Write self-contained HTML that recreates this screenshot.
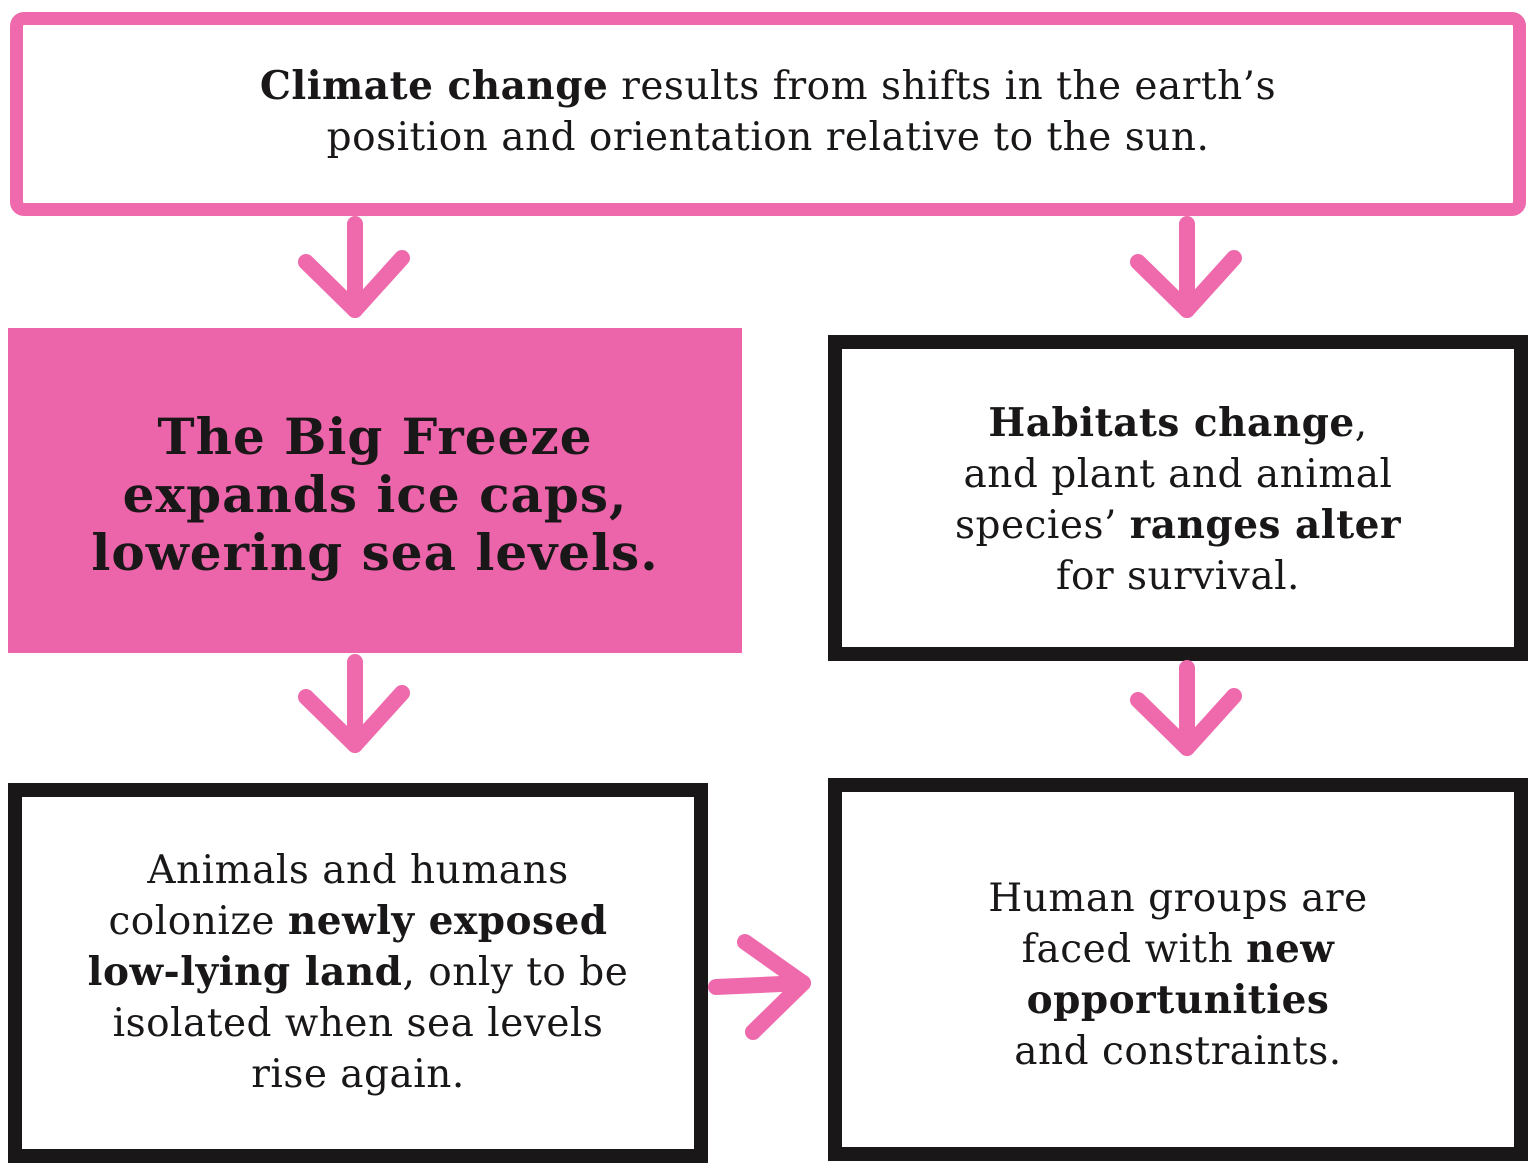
<!DOCTYPE html>
<html><head><meta charset="utf-8"><style>
html,body{margin:0;padding:0;background:#fff;}
body{width:1536px;height:1172px;position:relative;overflow:hidden;font-family:"DejaVu Serif","Liberation Serif",serif;color:#1a1718;}
.box{position:absolute;box-sizing:border-box;display:flex;align-items:center;justify-content:center;text-align:center;}
.t{font-size:39px;line-height:51px;letter-spacing:0.5px;white-space:nowrap;}
b{font-weight:900;}
svg{position:absolute;left:0;top:0;}
</style></head><body>
<div class="box" style="left:10px;top:12px;width:1516px;height:204px;border:13px solid #ee6aac;border-radius:14px;">
<div class="t" style="margin-top:-4px"><b>Climate change</b> results from shifts in the earth’s<br>position and orientation relative to the sun.</div></div>

<div class="box" style="left:8px;top:328px;width:734px;height:325px;background:#ec65aa;">
<div style="font-size:50px;line-height:58px;font-weight:900;letter-spacing:1px;margin-top:8px;white-space:nowrap">The Big Freeze<br>expands ice caps,<br>lowering sea levels.</div></div>

<div class="box" style="left:828px;top:335px;width:700px;height:326px;border:14px solid #1a1718;">
<div class="t" style="margin-top:4px"><b>Habitats change</b>,<br>and plant and animal<br>species’ <b>ranges alter</b><br>for survival.</div></div>

<div class="box" style="left:8px;top:783px;width:700px;height:380px;border:14px solid #1a1718;">
<div class="t" style="margin-top:-2px">Animals and humans<br>colonize <b>newly exposed<br>low-lying land</b>, only to be<br>isolated when sea levels<br>rise again.</div></div>

<div class="box" style="left:828px;top:778px;width:700px;height:383px;border:14px solid #1a1718;">
<div class="t" style="margin-top:10px">Human groups are<br>faced with <b>new<br>opportunities</b><br>and constraints.</div></div>

<svg width="1536" height="1172" fill="none" stroke="#ee6aac" stroke-width="16" stroke-linecap="round" stroke-linejoin="round">
<g><path d="M355 224 L355 310"/><path d="M306 262 L355 310 L402 258"/></g>
<g><path d="M1187 224 L1187 310"/><path d="M1138 262 L1187 310 L1234 258"/></g>
<g><path d="M355 662 L355 745"/><path d="M306 697 L355 745 L402 693"/></g>
<g><path d="M1187 668 L1187 748"/><path d="M1138 700 L1187 748 L1234 696"/></g>
<g><path d="M716 987 L803 983"/><path d="M745 942 L803 983 L753 1032"/></g>
</svg>
</body></html>
